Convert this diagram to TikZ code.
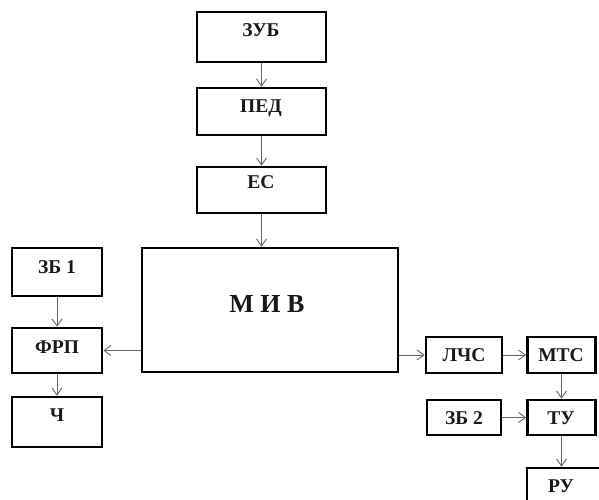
\documentclass[tikz,border=0pt]{standalone}
\usepackage{fontspec}
\setmainfont{Liberation Serif}
\usetikzlibrary{arrows.meta}
\begin{document}
\begin{tikzpicture}[x=1pt,y=-1pt,
  box/.style={draw=black, line width=2.6pt, rectangle, inner sep=0pt},
  lbl/.style={font=\bfseries\fontsize{19.5}{22}\selectfont, inner sep=0pt, text=black!90},
  big/.style={font=\bfseries\fontsize{26}{30}\selectfont, inner sep=0pt, text=black!90},
  conn/.style={draw=black!60, line width=0.9pt, -{Straight Barb[length=7pt,width=10pt]}}]
\useasboundingbox (0,0) rectangle (599,500);
\clip (0,0) rectangle (599,500);
% boxes
\node[box, minimum width=129pt, minimum height=50pt] (zub) at (261.5,37) {};
\node[box, minimum width=129pt, minimum height=47pt] (ped) at (261.5,111.5) {};
\node[box, minimum width=129pt, minimum height=46pt] (es) at (261.5,190) {};
\node[box, minimum width=256pt, minimum height=124pt] (miv) at (270,310) {};
\node[box, minimum width=90pt, minimum height=48pt] (zb1) at (57,272) {};
\node[box, minimum width=90pt, minimum height=45pt] (frp) at (57,350.5) {};
\node[box, minimum width=90pt, minimum height=50pt] (ch) at (57,422) {};
\node[box, minimum width=76pt, minimum height=36pt] (lchs) at (464,355) {};
\node[box, minimum width=68pt, minimum height=36pt] (mts) at (561.5,355) {};
\node[box, minimum width=74pt, minimum height=35pt] (zb2) at (464,417.5) {};
\node[box, minimum width=68pt, minimum height=35pt] (tu) at (561.5,417.5) {};
\node[box, minimum width=90pt, minimum height=60pt] (ru) at (572,498) {};
% labels
\node[lbl] (zubt) at (261,30) {ЗУБ};
\node[lbl] (pedt) at (261,108) {ПЕД};
\node[lbl] (est) at (261,182) {ЕС};
\node[big] (mivt) at (267,304) {М И В};
\node[lbl] (zb1t) at (57,267) {ЗБ 1};
\node[lbl] (frpt) at (57,347) {ФРП};
\node[lbl] (cht) at (57,415) {Ч};
\node[lbl] (lchst) at (464,355) {ЛЧС};
\node[lbl] (mtst) at (561,355) {МТС};
\node[lbl] (zb2t) at (464,418) {ЗБ 2};
\node[lbl] (tut) at (561,418) {ТУ};
\node[lbl] (rut) at (561,486) {РУ};
% connectors
\draw[conn] (zub) -- (ped);
\draw[conn] (ped) -- (es);
\draw[conn] (es) -- (es |- miv.north);
\draw[conn] (zb1) -- (frp);
\draw[conn] (frp) -- (ch);
\draw[conn] (miv.west |- frp) -- (frp.east);
\draw[conn] (miv.east |- lchs) -- (lchs.west);
\draw[conn] (lchs) -- (mts);
\draw[conn] (mts) -- (tu);
\draw[conn] (zb2) -- (tu);
\draw[conn] (tu) -- (tu |- ru.north);
\end{tikzpicture}
\end{document}
